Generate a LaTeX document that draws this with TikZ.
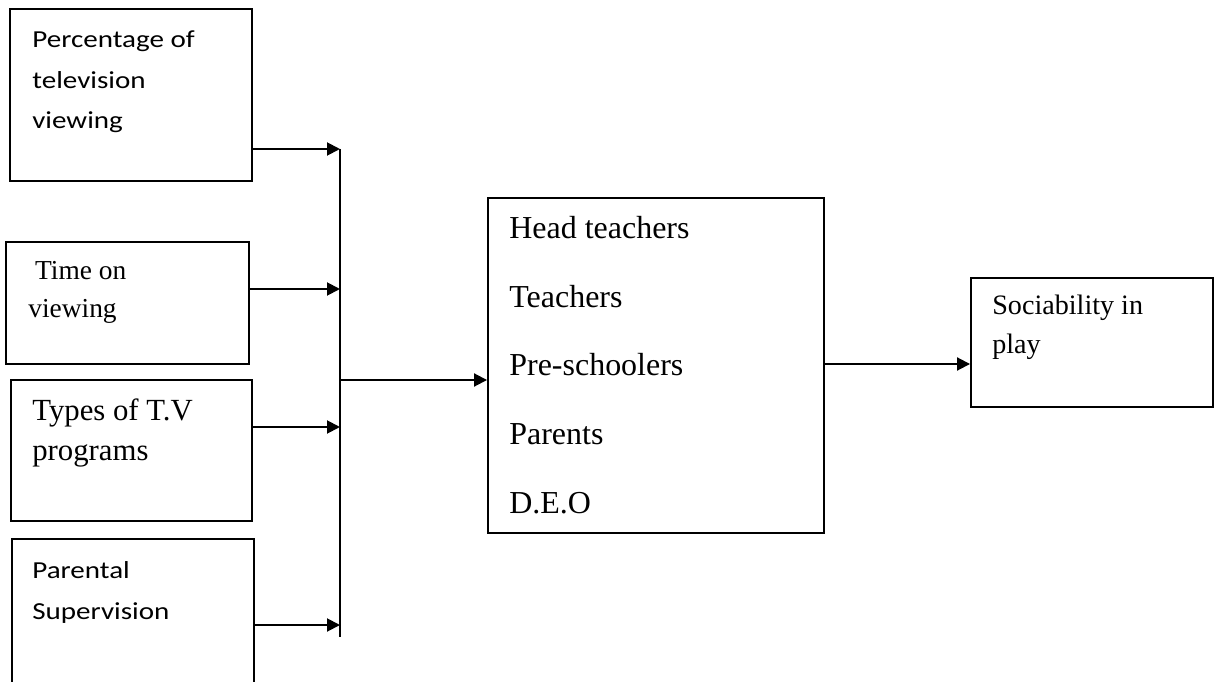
\documentclass[tikz,border=0pt]{standalone}
\usepackage{fontspec}
\setmainfont{Liberation Serif}
\newfontfamily\calibfont[FakeStretch=1.19]{Carlito}
\usetikzlibrary{arrows.meta, positioning, fit}

\begin{document}
\begin{tikzpicture}[x=0.02cm, y=-0.02cm,
  box/.style={draw, line width=1.1pt, inner sep=0pt},
  txt/.style={anchor=north west, inner sep=0pt, align=left},
  arr/.style={-{Triangle[length=0.26cm, width=0.26cm]}, line width=1.1pt}]
  \useasboundingbox (0,0) rectangle (1220,682);
  \clip (0,0) rectangle (1220,682);

  \node[box, fit={(10,9) (252,181)}] (pct) {};
  \node[box, fit={(6,242) (249,364)}] (time) {};
  \node[box, fit={(11,380) (252,521)}] (types) {};
  \node[box, fit={(12,539) (254,700)}] (superv) {};
  \node[box, fit={(488,198) (824,533)}] (actors) {};
  \node[box, fit={(971,278) (1213,407)}] (social) {};

  \node[txt, font=\calibfont\fontsize{13.9}{23.3}\selectfont] (pcttxt) at (32,30) {Percentage of\\television\\viewing};
  \node[txt, font=\fontsize{15.6}{21.6}\selectfont] (timetxt) at (28,261) {\ Time on\\viewing};
  \node[txt, font=\fontsize{17.5}{23.3}\selectfont] (typestxt) at (32,398) {Types of T.V\\programs};
  \node[txt, font=\calibfont\fontsize{13.9}{23.3}\selectfont] (supervtxt) at (32,561) {Parental\\Supervision};
  \node[txt, font=\fontsize{18.2}{39.1}\selectfont] (actorstxt) at (509,216) {Head teachers\\Teachers\\Pre-schoolers\\Parents\\D.E.O};
  \node[txt, font=\fontsize{16}{22.2}\selectfont] (socialtxt) at (992,295) {Sociability in\\play};

  \coordinate (bus1) at (340,149);
  \coordinate (bus2) at (340,289);
  \coordinate (bus3) at (340,427);
  \coordinate (bus4) at (340,625);
  \coordinate (busbot) at (340,637);
  \coordinate (busout) at (340,380);
  \coordinate (mid) at (824,364);

  \draw[line width=1.1pt] (bus1) -- (busbot);
  \draw[arr] (pct.east |- bus1) -- (bus1);
  \draw[arr] (time.east |- bus2) -- (bus2);
  \draw[arr] (types.east |- bus3) -- (bus3);
  \draw[arr] (superv.east |- bus4) -- (bus4);
  \draw[arr] (busout) -- (actors.west |- busout);
  \draw[arr] (actors.east |- mid) -- (social.west |- mid);
\end{tikzpicture}
\end{document}
